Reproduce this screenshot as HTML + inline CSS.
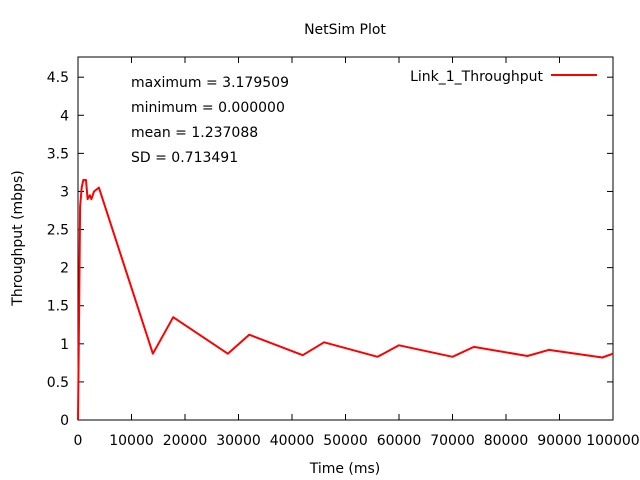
<!DOCTYPE html>
<html><head><meta charset="utf-8"><style>
body{margin:0;background:#fff;}
svg{display:block;font-family:"DejaVu Sans","Liberation Sans",sans-serif;}
</style></head><body>
<svg id="chart" width="640" height="480" viewBox="0 0 640 480">
<rect width="640" height="480" fill="#fff"/>
<text x="345" y="34" font-size="14" text-anchor="middle">NetSim Plot</text>
<text x="345" y="473" font-size="14" text-anchor="middle">Time (ms)</text>
<text transform="translate(22,238) rotate(-90)" font-size="14" text-anchor="middle">Throughput (mbps)</text>
<g id="axes"></g>
<g id="stats" font-size="14">
<text x="131" y="87">maximum = 3.179509</text>
<text x="131" y="112">minimum = 0.000000</text>
<text x="131" y="137">mean = 1.237088</text>
<text x="131" y="162">SD = 0.713491</text>
</g>
<g>
<text x="543" y="81" font-size="14" text-anchor="end">Link_1_Throughput</text>
<line x1="551" y1="75" x2="597" y2="75" stroke="#f00" stroke-width="2"/>
</g>
<g id="series"></g>
</svg>
<script>
const xTicks=[0,10000,20000,30000,40000,50000,60000,70000,80000,90000,100000];
const yTicks=[0,0.5,1,1.5,2,2.5,3,3.5,4,4.5];
const yTickLabels=["0","0.5","1","1.5","2","2.5","3","3.5","4","4.5"];
const timeMs=[0,200,400,700,1000,1500,1800,2200,2500,3000,3900,14000,17800,28000,32000,42000,46000,56000,60000,70000,74000,84000,88000,98000,100000];
const throughput=[0,1.4,2.8,3.05,3.15,3.15,2.9,2.95,2.9,3.0,3.05,0.87,1.35,0.87,1.12,0.85,1.02,0.83,0.98,0.83,0.96,0.84,0.92,0.82,0.87];
const L=78,R=613,T=57,B=420,yMax=4.765;
const X=v=>L+(v/100000)*(R-L), Y=v=>B-(v/yMax)*(B-T);
const ns="http://www.w3.org/2000/svg";
const ax=document.getElementById('axes');
function mk(t,a,p){const e=document.createElementNS(ns,t);for(const k in a)e.setAttribute(k,a[k]);(p||ax).appendChild(e);return e;}
const frame=mk('rect',{x:L,y:T,width:R-L,height:B-T,fill:'none',stroke:'#000','stroke-width':1});


xTicks.forEach(v=>{const x=X(v);
mk('line',{x1:x,y1:B,x2:x,y2:B-6,stroke:'#000'});mk('line',{x1:x,y1:T,x2:x,y2:T+6,stroke:'#000'});
const t=mk('text',{x:x,y:B+25,'font-size':14,'text-anchor':'middle'});t.textContent=v;

});
yTicks.forEach((v,i)=>{const y=Y(v);
mk('line',{x1:L,y1:y,x2:L+6,y2:y,stroke:'#000'});mk('line',{x1:R,y1:y,x2:R-6,y2:y,stroke:'#000'});
const t=mk('text',{x:L-9,y:y+5,'font-size':14,'text-anchor':'end'});t.textContent=yTickLabels[i];

});
const pts=timeMs.map((t,i)=>X(t).toFixed(1)+','+Y(throughput[i]).toFixed(1)).join(' ');
const line=mk('polyline',{points:pts,fill:'none',stroke:'#f00','stroke-width':2,'stroke-linejoin':'round'},document.getElementById('series'));


</script>
</body></html>
